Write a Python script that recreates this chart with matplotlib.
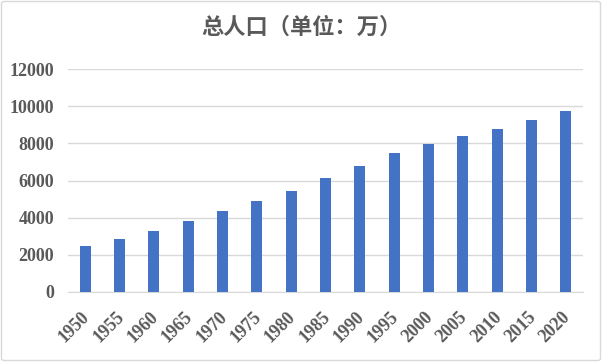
import matplotlib
matplotlib.use("Agg")
import matplotlib.pyplot as plt
from matplotlib.patches import FancyBboxPatch
import matplotlib.transforms as mtransforms

years = ["1950", "1955", "1960", "1965", "1970", "1975", "1980", "1985",
         "1990", "1995", "2000", "2005", "2010", "2015", "2020"]
population = [2480, 2860, 3290, 3820, 4360, 4890, 5430, 6110,
              6800, 7500, 7990, 8420, 8790, 9270, 9750]
yticks = [0, 2000, 4000, 6000, 8000, 10000, 12000]
title = "总人口（单位：万）"

W, H = 602, 362
fig = plt.figure(figsize=(W / 100, H / 100), dpi=100)
fig.patch.set_facecolor("white")

# outer border
fig.patches.append(FancyBboxPatch((1.5 / W, 1.5 / H), (W - 3) / W, (H - 3) / H,
                                  boxstyle="round,pad=0,rounding_size=0.005",
                                  transform=fig.transFigure, fill=False,
                                  edgecolor="#d9d9d9", linewidth=1))

left, right, top, bottom = 68, 583, 69, 292
ax = fig.add_axes([left / W, 1 - bottom / H, (right - left) / W, (bottom - top) / H])

x = range(len(years))
ax.bar(x, population, width=0.32, color="#4472c4", zorder=3)
ax.set_xlim(-0.5, len(years) - 0.5)
ax.set_ylim(0, 12000)
ax.set_yticks(yticks)
ax.set_yticklabels([str(v) for v in yticks], family="Liberation Serif",
                   fontsize=13, color="#595959", fontweight="bold")
ax.set_xticks(list(x))
ax.set_xticklabels(years, rotation=45, ha="right", rotation_mode="anchor",
                   family="Liberation Serif", fontsize=13, color="#595959",
                   fontweight="bold")
ax.tick_params(axis="both", length=0)
ax.tick_params(axis="y", pad=10)
ax.tick_params(axis="x", pad=12)
offset = mtransforms.ScaledTranslation(-4 / 100, 0, fig.dpi_scale_trans)
for lbl in ax.get_xticklabels():
    lbl.set_transform(lbl.get_transform() + offset)
ax.grid(axis="y", color="#d9d9d9", linewidth=1, zorder=0)
for s in ["top", "left", "right"]:
    ax.spines[s].set_visible(False)
ax.spines["bottom"].set_color("#d9d9d9")

fig.text(0.5, 1 - 27 / H, title, ha="center", va="center",
         family=["Noto Sans CJK SC", "DejaVu Sans"], fontsize=16,
         fontweight="bold", color="#595959")

fig.savefig("out.png", dpi=100)
